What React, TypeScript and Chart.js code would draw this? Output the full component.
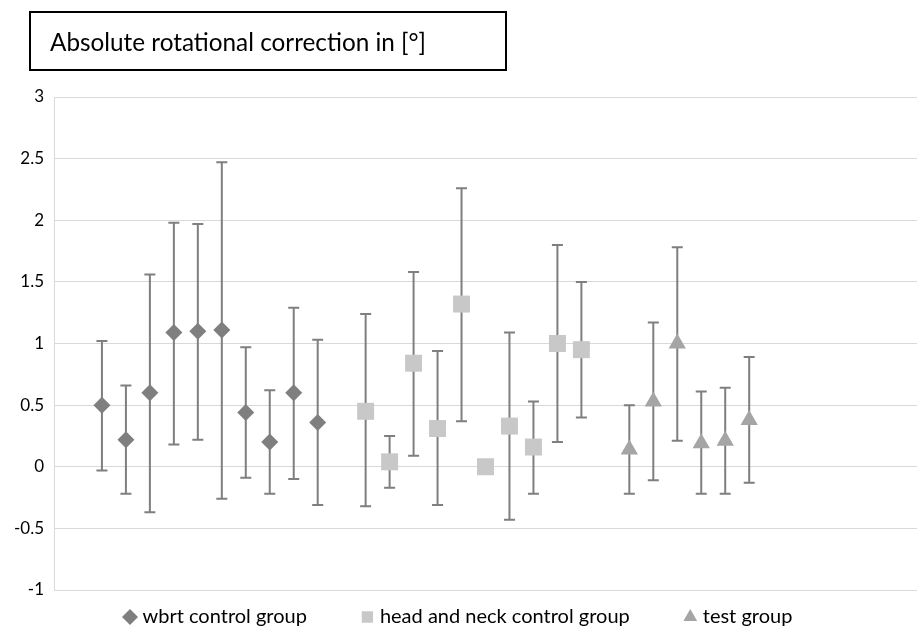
import React, { useEffect, useRef } from "react";
import { Chart, registerables } from "chart.js";

Chart.register(...registerables);

const seriesNames = ["wbrt control group", "head and neck control group", "test group"];

const wbrtX = [1, 2, 3, 4, 5, 6, 7, 8, 9, 10];
const wbrtMean = [0.5, 0.22, 0.6, 1.09, 1.1, 1.11, 0.44, 0.2, 0.6, 0.36];
const wbrtLow = [-0.03, -0.22, -0.37, 0.18, 0.22, -0.26, -0.09, -0.22, -0.1, -0.31];
const wbrtHigh = [1.02, 0.66, 1.56, 1.98, 1.97, 2.47, 0.97, 0.62, 1.29, 1.03];

const hnX = [12, 13, 14, 15, 16, 17, 18, 19, 20, 21];
const hnMean = [0.45, 0.04, 0.84, 0.31, 1.32, 0.0, 0.33, 0.16, 1.0, 0.95];
const hnLow = [-0.32, -0.17, 0.09, -0.31, 0.37, 0.0, -0.43, -0.22, 0.2, 0.4];
const hnHigh = [1.24, 0.25, 1.58, 0.94, 2.26, 0.0, 1.09, 0.53, 1.8, 1.5];

const testX = [23, 24, 25, 26, 27, 28];
const testMean = [0.14, 0.53, 1.0, 0.19, 0.21, 0.38];
const testLow = [-0.22, -0.11, 0.21, -0.22, -0.22, -0.13];
const testHigh = [0.5, 1.17, 1.78, 0.61, 0.64, 0.89];

const yTicks = [-1, -0.5, 0, 0.5, 1, 1.5, 2, 2.5, 3];

const FONT = "Lato";

function pts(xs: number[], ys: number[], lo: number[], hi: number[]) {
  return xs.map((x, i) => ({ x, y: ys[i], lo: lo[i], hi: hi[i] }));
}

const errorBars = {
  id: "errorBars",
  beforeDatasetsDraw(chart: any) {
    const { ctx, scales } = chart;
    const xs = scales.x;
    const ys = scales.y;
    ctx.save();
    ctx.strokeStyle = "#7f7f7f";
    ctx.lineWidth = 2;
    chart.data.datasets.forEach((ds: any) => {
      ds.data.forEach((p: any) => {
        if (p.hi === p.lo) return;
        const px = xs.getPixelForValue(p.x);
        const yl = ys.getPixelForValue(p.lo);
        const yh = ys.getPixelForValue(p.hi);
        ctx.beginPath();
        ctx.moveTo(px, yl);
        ctx.lineTo(px, yh);
        ctx.moveTo(px - 5.5, yl);
        ctx.lineTo(px + 5.5, yl);
        ctx.moveTo(px - 5.5, yh);
        ctx.lineTo(px + 5.5, yh);
        ctx.stroke();
      });
    });
    ctx.restore();
  },
};

const LEG_PAD = 58;
const LEG_FS = 20;

const legendFix = {
  id: "legendFix",
  beforeInit(chart: any) {
    const lg = chart.legend;
    if (!lg) return;
    const fit = lg.fit.bind(lg);
    lg.fit = function () {
      fit();
      this.height = 42;
    };
    const draw = lg.draw.bind(lg);
    lg.draw = function () {
      const t = this.top;
      const l = this.left;
      this.top = 617 - LEG_FS / 2 - LEG_PAD;
      this.left = 127.5 - LEG_PAD;
      draw();
      this.top = t;
      this.left = l;
    };
  },
};

export default function App() {
  const ref = useRef<HTMLCanvasElement>(null);

  useEffect(() => {
    if (!ref.current) return;
    const chart = new Chart(ref.current, {
      type: "scatter",
      data: {
        datasets: [
          {
            label: seriesNames[0],
            data: pts(wbrtX, wbrtMean, wbrtLow, wbrtHigh),
            pointStyle: "rectRot",
            pointRadius: 8.5,
            pointHoverRadius: 8.5,
            backgroundColor: "#7f7f7f",
            borderColor: "#7f7f7f",
            pointBorderWidth: 0,
            borderWidth: 0,
          },
          {
            label: seriesNames[1],
            data: pts(hnX, hnMean, hnLow, hnHigh),
            pointStyle: "rect",
            pointRadius: 12,
            pointHoverRadius: 12,
            backgroundColor: "#c8c8c8",
            borderColor: "#c8c8c8",
            pointBorderWidth: 0,
            borderWidth: 0,
          },
          {
            label: seriesNames[2],
            data: pts(testX, testMean, testLow, testHigh),
            pointStyle: "triangle",
            pointRadius: 10,
            pointHoverRadius: 10,
            backgroundColor: "#a5a5a5",
            borderColor: "#a5a5a5",
            pointBorderWidth: 0,
            borderWidth: 0,
          },
        ] as any,
      },
      options: {
        animation: false,
        responsive: false,
        devicePixelRatio: 1,
        layout: { autoPadding: false, padding: { top: 97, left: 0, right: 0, bottom: 0 } },
        scales: {
          x: {
            type: "linear",
            display: false,
            min: -1,
            max: 35,
          },
          y: {
            type: "linear",
            min: -1,
            max: 3,
            afterFit(scale: any) {
              scale.width = 54;
            },
            afterBuildTicks(scale: any) {
              scale.ticks = yTicks.map((v) => ({ value: v }));
            },
            ticks: {
              padding: 10,
              color: "#000000",
              font: { family: FONT, size: 17 },
              callback: (v: any) => String(v),
            },
            grid: {
              color: "#d9d9d9",
              lineWidth: 1,
              drawTicks: false,
            },
            border: { display: true, color: "#d9d9d9", width: 1 },
          },
        },
        plugins: {
          title: { display: false },
          tooltip: { enabled: false },
          legend: {
            display: true,
            position: "bottom",
            align: "start",
            labels: {
              usePointStyle: true,
              boxWidth: 5,
              boxHeight: 11.3,
              padding: LEG_PAD,
              color: "#000000",
              font: { family: FONT, size: LEG_FS },
            },
          },
        },
      } as any,
      plugins: [errorBars, legendFix],
    });
    return () => chart.destroy();
  }, []);

  return (
    <div
      style={{
        position: "fixed",
        left: 0,
        top: 0,
        width: 917,
        height: 632,
        background: "#ffffff",
      }}
    >
      <canvas ref={ref} width={917} height={632} style={{ width: 917, height: 632, display: "block" }} />
      <div
        style={{
          position: "absolute",
          left: 29,
          top: 11,
          width: 478,
          height: 60,
          boxSizing: "border-box",
          border: "2px solid #000000",
          display: "flex",
          alignItems: "center",
          paddingLeft: 19,
          fontFamily: FONT,
          fontSize: 24.3,
          color: "#000000",
          whiteSpace: "nowrap",
        }}
      >
        Absolute rotational correction in [°]
      </div>
    </div>
  );
}
